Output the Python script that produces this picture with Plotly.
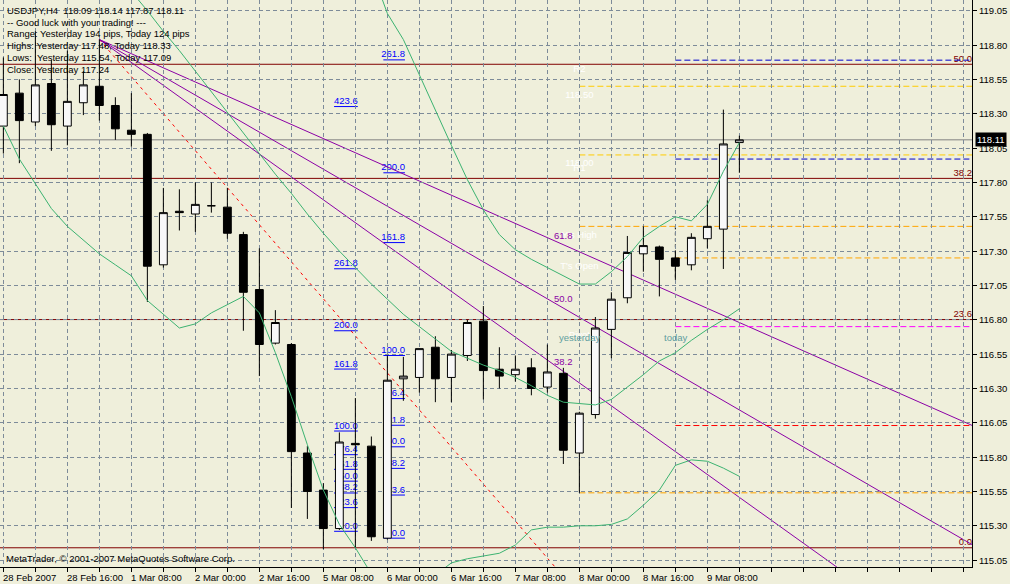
import plotly.graph_objects as go

# USDJPY H4, bar 0 = 28 Feb 2007 00:00 (weekend bars skipped)
opens = [118.21, 118.45, 118.24, 118.52, 118.21, 118.38, 118.50, 118.36, 118.18, 118.15,
         117.20, 117.59, 117.57, 117.63, 117.62, 117.42, 117.02, 116.63, 116.62, 115.83,
         115.56, 115.28, 115.90, 115.88, 115.21, 116.37, 116.38, 116.60, 116.38, 116.54,
         116.79, 116.44, 116.40, 116.45, 116.31, 116.41, 115.83, 116.11, 116.73, 116.96,
         117.28, 117.33, 117.25, 117.20, 117.39, 117.46, 118.09]
highs = [118.71, 118.55, 118.90, 118.69, 118.76, 118.61, 118.84, 118.42, 118.45, 118.16,
         117.76, 117.75, 117.80, 117.80, 117.76, 117.44, 117.32, 116.87, 116.63, 115.88,
         115.61, 115.98, 116.23, 115.95, 116.54, 116.53, 116.59, 116.68, 116.58, 116.80,
         116.90, 116.60, 116.54, 116.52, 116.62, 116.45, 116.13, 116.82, 117.00, 117.41,
         117.48, 117.34, 117.30, 117.43, 117.67, 118.33, 118.14]
lows = [118.01, 117.94, 118.21, 118.03, 118.07, 118.29, 118.25, 118.11, 118.06, 116.93,
        117.18, 117.45, 117.44, 117.58, 117.39, 116.72, 116.39, 116.62, 115.43, 115.35,
        115.13, 115.27, 115.14, 115.19, 115.20, 116.21, 116.27, 116.20, 116.20, 116.50,
        116.22, 116.30, 116.35, 116.25, 116.27, 115.75, 115.54, 116.08, 116.52, 116.92,
        117.15, 116.97, 117.09, 117.16, 117.32, 117.17, 117.87]
closes = [118.44, 118.25, 118.51, 118.22, 118.39, 118.51, 118.36, 118.19, 118.15, 117.19,
          117.58, 117.58, 117.64, 117.63, 117.43, 117.00, 116.62, 116.78, 115.84, 115.55,
          115.28, 115.91, 115.89, 115.22, 116.36, 116.39, 116.59, 116.37, 116.55, 116.78,
          116.43, 116.39, 116.44, 116.30, 116.42, 115.85, 116.12, 116.74, 116.95, 117.29,
          117.34, 117.24, 117.19, 117.40, 117.48, 118.08, 118.11]

# Bollinger bands (20)
upper_band = [None] * 23 + [119.35, 119.03, 118.84, 118.58, 118.33, 118.07, 117.82, 117.60,
                            117.42, 117.31, 117.24, 117.18, 117.12, 117.06, 117.06, 117.15,
                            117.26, 117.40, 117.48, 117.55, 117.52, 117.64, 117.88, 118.09]
mid_band = [None] * 8 + [119.19, 119.05, 118.90, 118.76, 118.61, 118.46, 118.31, 118.16,
                         118.01, 117.86, 117.72, 117.57, 117.43, 117.30, 117.18, 117.06,
                         116.95, 116.84, 116.75, 116.66, 116.57, 116.52, 116.47, 116.43,
                         116.38, 116.32, 116.25, 116.20, 116.19, 116.18, 116.22, 116.31,
                         116.40, 116.50, 116.56, 116.65, 116.73, 116.80, 116.88]
lower_band = [118.21, 117.97, 117.79, 117.61, 117.48, 117.38, 117.28, 117.20, 117.12, 116.94,
              116.84, 116.74, 116.77, 116.85, 116.91, 116.97, 116.85, 116.56, 116.24, 115.89,
              115.56, 115.31, 115.14, 114.95, 114.87, 114.80, 114.85, 114.94, 115.03, 115.06,
              115.08, 115.10, 115.16, 115.27, 115.29, 115.29, 115.30, 115.30, 115.31, 115.35,
              115.45, 115.56, 115.74, 115.78, 115.77, 115.72, 115.66]

date_ticks = [0, 4, 8, 12, 16, 20, 24, 28, 32, 36, 40, 44]
date_labels = ['28 Feb 2007', '28 Feb 16:00', '1 Mar 08:00', '2 Mar 00:00', '2 Mar 16:00',
               '5 Mar 08:00', '6 Mar 00:00', '6 Mar 16:00', '7 Mar 08:00', '8 Mar 00:00',
               '8 Mar 16:00', '9 Mar 08:00']
price_ticks = [115.05, 115.30, 115.55, 115.80, 116.05, 116.30, 116.55, 116.80, 117.05,
               117.30, 117.55, 117.80, 118.05, 118.30, 118.55, 118.80, 119.05]

info_lines = ['USDJPY,H4\u00a0 118.09 118.14 117.87 118.11',
              '-- Good luck with your trading! ---',
              'Range: Yesterday 194 pips, Today 124 pips',
              'Highs: Yesterday 117.48, Today 118.33',
              'Lows:\u00a0 Yesterday 115.54, Today 117.09',
              'Close: Yesterday 117.24']

# fibo retracement (maroon, full width)
retr_low, retr_high = 115.14, 122.18
retr_levels = [0.0, 23.6, 38.2, 50.0, 61.8, 100.0]
# fibo expansions (blue): (x0, x1, price at 0%, price at 100%)
expansions = [(20.67, 22.15, 115.26, 115.99), (23.75, 25.1, 115.21, 116.54)]
exp_levels = [0.0, 23.6, 38.2, 50.0, 61.8, 76.4, 100.0, 161.8, 200.0, 261.8, 423.6]
# fibo fan (purple) from bar 6 high
fan_p1 = (6, 118.84)
fan_p2 = (35, 114.93)
fan_levels = [38.2, 50.0, 61.8]

# daily pivot / level lines: (start bar, price, colour)
day_lines = [(36, 117.48, '#FFA500'), (36, 115.54, '#FFA500'), (36, 118.50, '#FFCC00'),
             (36, 118.00, '#FFCC00'), (42, 117.25, '#FFA500'), (42, 118.69, '#0000CD'),
             (42, 117.97, '#0000CD'), (42, 116.75, '#FF00FF'), (42, 116.03, '#FF0000')]
day_labels = [('R2', 118.69), ('118.50', 118.50), ('118.00', 118.00), ('R1', 117.97),
              ("Y's High", 117.48), ("T's Open", 117.25), ('Pivot', 116.75)]
last_price = 118.11

BG = '#EFEFDB'
GRID = '#7D8B99'
FAN = '#8B00A5'
FONT = 'Liberation Sans'
FS = 9.5
X_MIN, X_MAX = -0.21, 60.54
Y_MIN, Y_MAX = 115.0, 119.128

bars = list(range(len(closes)))
shapes = []
annotations = []


def txt(color):
    return dict(family=FONT, size=FS, color=color)


def visible(p):
    return Y_MIN <= p <= Y_MAX


# bid line
shapes.append(dict(type='line', xref='paper', x0=0, x1=1, yref='y', y0=last_price, y1=last_price,
                   line=dict(color='#808080', width=1), layer='below'))

for lvl in retr_levels:
    p = retr_low + (retr_high - retr_low) * lvl / 100
    if not visible(p):
        continue
    shapes.append(dict(type='line', xref='paper', x0=0, x1=1, yref='y', y0=p, y1=p,
                       line=dict(color='#800000', width=1), layer='below',
                       label=dict(text='%.1f' % lvl, textposition='end', xanchor='right',
                                  yanchor='bottom', padding=1, font=txt('#800000'))))

for x0, x1, p0, p100 in expansions:
    for lvl in exp_levels:
        p = p0 + (p100 - p0) * lvl / 100
        if not visible(p):
            continue
        shapes.append(dict(type='line', x0=x0, x1=x1, y0=p, y1=p,
                           line=dict(color='#0000FF', width=1), layer='below',
                           label=dict(text='%.1f' % lvl, textposition='end', xanchor='right',
                                      yanchor='bottom', padding=1, font=txt('#0000FF'))))

# fan base (red dotted) and fan rays
shapes.append(dict(type='line', x0=fan_p1[0], y0=fan_p1[1], x1=fan_p2[0], y1=fan_p2[1],
                   line=dict(color='#FF0000', width=1, dash='3px,4px'), layer='below'))
for lvl in fan_levels:
    p = fan_p2[1] + (fan_p1[1] - fan_p2[1]) * lvl / 100
    xe = 90
    pe = fan_p1[1] + (p - fan_p1[1]) * (xe - fan_p1[0]) / (fan_p2[0] - fan_p1[0])
    shapes.append(dict(type='line', x0=fan_p1[0], y0=fan_p1[1], x1=xe, y1=pe,
                       line=dict(color=FAN, width=1), layer='below'))
    annotations.append(dict(x=fan_p2[0], y=p, text='%.1f' % lvl, showarrow=False,
                            xanchor='center', yanchor='bottom', yshift=2, font=txt(FAN)))

for x0, p, col in day_lines:
    shapes.append(dict(type='line', x0=x0, x1=X_MAX, y0=p, y1=p,
                       line=dict(color=col, width=1, dash='6px,3px'), layer='below'))
for t, p in day_labels:
    shapes.append(dict(type='line', x0=35.2, x1=36.8, y0=p, y1=p,
                       line=dict(color='rgba(0,0,0,0)', width=0), layer='below',
                       label=dict(text=t, textposition='middle', xanchor='center',
                                  yanchor='top', padding=2, font=txt('white'))))

# today marker
shapes.append(dict(type='line', x0=42, x1=42, y0=117.48, y1=117.09,
                   line=dict(color='black', width=1, dash='3px,3px'), layer='below'))

annotations.append(dict(x=36, y=116.67, text='yesterday', showarrow=False, font=txt('#5F9EA0')))
annotations.append(dict(x=42, y=116.67, text='today', showarrow=False, font=txt('#5F9EA0')))

for k, line in enumerate(info_lines):
    annotations.append(dict(xref='paper', yref='paper', x=0, y=1, xanchor='left',
                            yanchor='middle', xshift=5, yshift=-(10.5 + 11.7 * k),
                            text=line, showarrow=False, font=txt('black')))
annotations.append(dict(xref='paper', yref='paper', x=0, y=0, xanchor='left',
                        yanchor='middle', xshift=4, yshift=9, showarrow=False,
                        text='MetaTrader, © 2001-2007 MetaQuotes Software Corp.',
                        font=txt('black')))

# axis labels (MetaTrader style: left-aligned after the tick)
for t, lab in zip(date_ticks, date_labels):
    annotations.append(dict(x=t, xref='x', y=0, yref='paper', xanchor='left', yanchor='middle',
                            xshift=-2, yshift=-10, text=lab, showarrow=False, font=txt('black')))
for v in price_ticks:
    annotations.append(dict(xref='paper', x=1, y=v, yref='y', xanchor='left', yanchor='middle',
                            xshift=5, text='%.2f' % v, showarrow=False, font=txt('black')))
annotations.append(dict(xref='paper', yref='y', x=1, y=last_price, xanchor='left',
                        yanchor='middle', xshift=3, showarrow=False, text='%.2f' % last_price,
                        bgcolor='black', borderpad=1, font=txt('white')))

fig = go.Figure()
fig.add_trace(go.Candlestick(
    x=bars, open=opens, high=highs, low=lows, close=closes,
    increasing=dict(fillcolor='#F8F8F8', line=dict(color='black', width=1)),
    decreasing=dict(fillcolor='black', line=dict(color='black', width=1)),
    whiskerwidth=0, hoverinfo='skip'))
for band in [upper_band, mid_band, lower_band]:
    fig.add_trace(go.Scatter(x=bars, y=band, mode='lines',
                             line=dict(color='#3CB371', width=1), hoverinfo='skip'))

fig.update_layout(
    width=1010, height=584,
    margin=dict(l=0, r=38, t=0, b=17, autoexpand=False),
    paper_bgcolor=BG, plot_bgcolor=BG,
    showlegend=False, hovermode=False,
    font=dict(family=FONT, size=FS, color='black'),
    shapes=shapes, annotations=annotations,
    xaxis=dict(range=[X_MIN, X_MAX], tickvals=list(range(0, 61, 2)), showticklabels=False,
               ticks='outside', ticklen=4, tickcolor='black', automargin=False,
               showgrid=True, gridcolor=GRID, griddash='4px,3px', gridwidth=1,
               showline=True, linecolor='black', linewidth=1, mirror=True,
               zeroline=False, rangeslider=dict(visible=False)),
    yaxis=dict(range=[Y_MIN, Y_MAX], side='right', tickvals=price_ticks, showticklabels=False,
               ticks='outside', ticklen=4, tickcolor='black', automargin=False,
               showgrid=True, gridcolor=GRID, griddash='4px,3px', gridwidth=1,
               showline=True, linecolor='black', linewidth=1, mirror=True,
               zeroline=False),
)

# the page body has a default 8px margin; remove it so the chart fills the window
fig.write_html("out.html", config={'displayModeBar': False},
               post_script="document.body.style.margin='0';")
